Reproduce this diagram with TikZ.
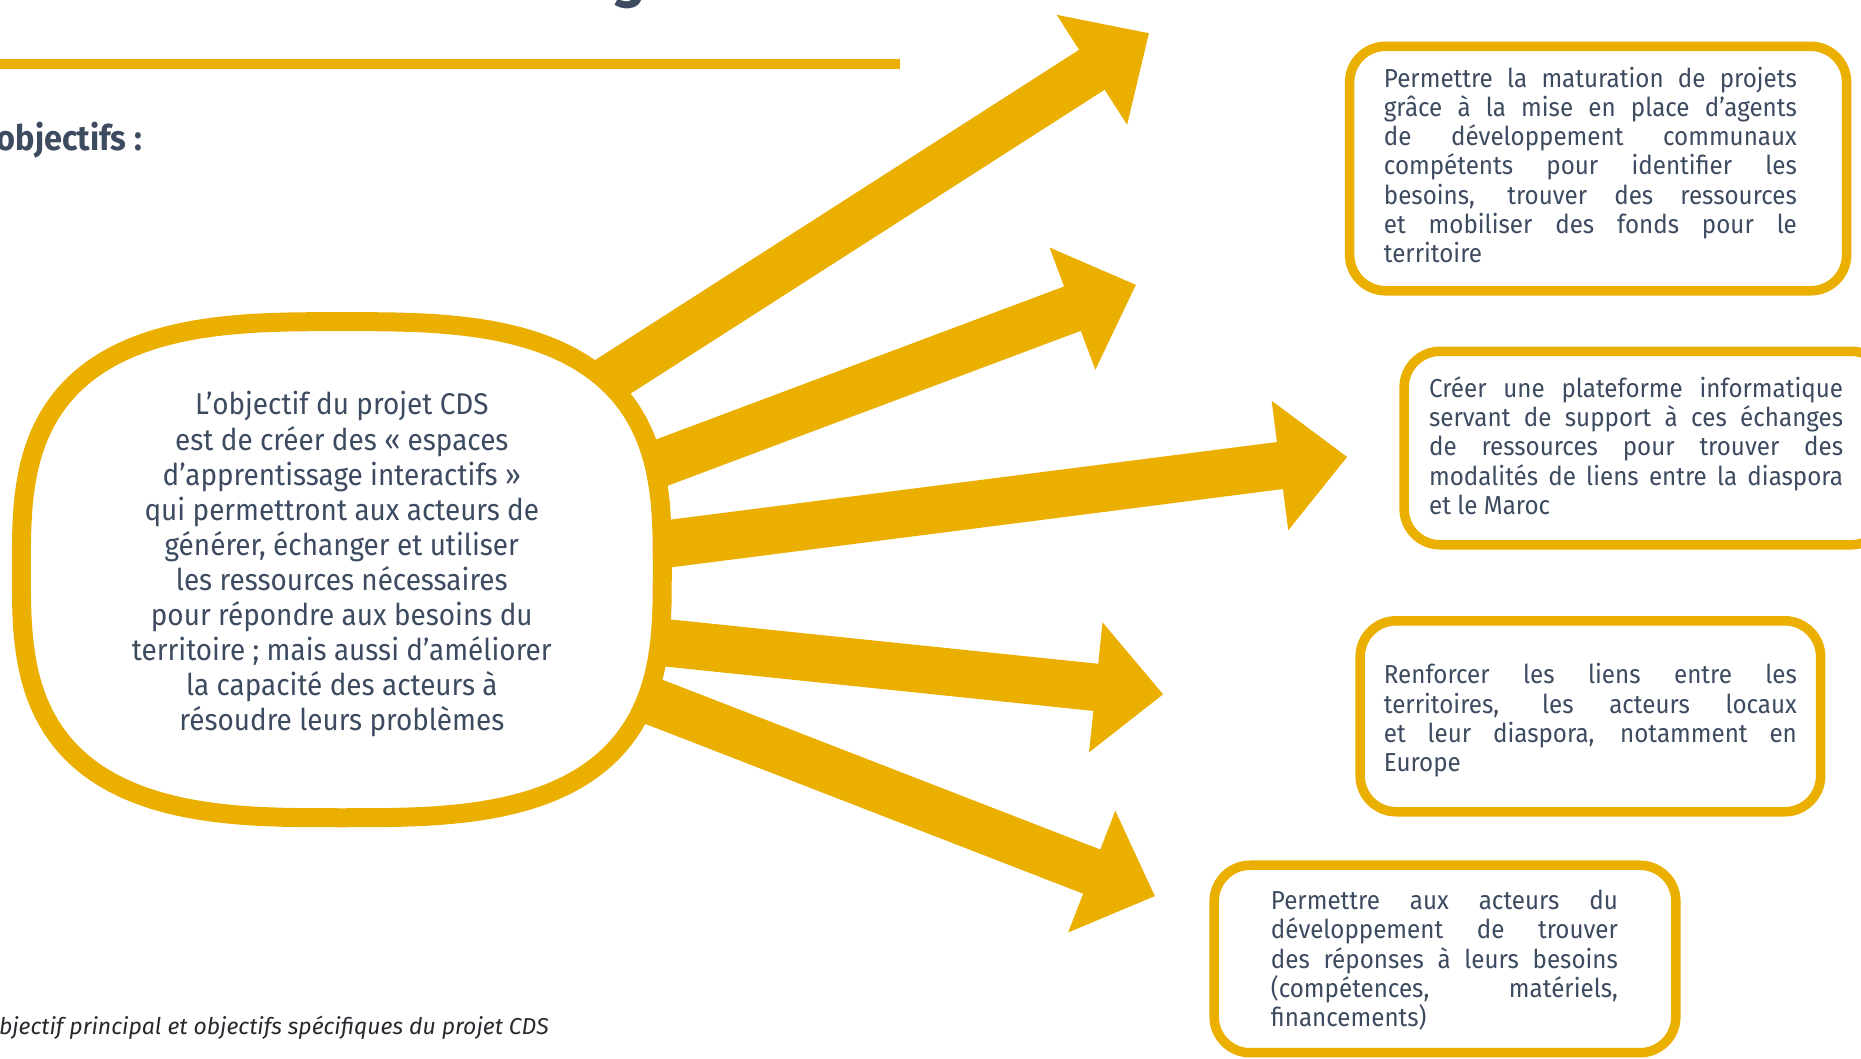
\documentclass[tikz,border=0pt]{standalone}
\usepackage{fontspec}
\setmainfont{Fira Sans}
\newfontfamily\boxfont[FakeStretch=0.93]{Fira Sans}
\usetikzlibrary{calc}
\definecolor{gold}{RGB}{235,175,0}
\definecolor{ink}{RGB}{61,75,96}
\definecolor{capink}{RGB}{40,40,46}
\tikzset{
  goldbox/.style={draw=gold, line width=9.5pt, rounded corners=36pt, fill=white, inner sep=0pt},
  boxtext/.style={text=ink, font=\boxfont\fontsize{26}{29.3}\selectfont, align=left, inner sep=0pt},
  blobtext/.style={text=ink, font=\boxfont\fontsize{30}{35.1}\selectfont, align=center, inner sep=0pt},
  declare function={sp(\t)=sign(\t)*(abs(\t)+0.00001)^(0.667);}
}
\newcommand\jl[2]{\makebox[#1][s]{#2}}
\newcommand\goldarrow[2]{%
  \path ($(#2)!67.7pt!(#1)$) coordinate (#2-b);
  \fill[gold] ($(#1)!23.7pt!90:(#2)$) -- ($(#2-b)!23.7pt!90:(#2)$) -- ($(#2-b)!65.3pt!90:(#2)$)
    -- (#2) -- ($(#2-b)!65.3pt!-90:(#2)$) -- ($(#2-b)!23.7pt!-90:(#2)$) -- ($(#1)!23.7pt!-90:(#2)$) -- cycle;}
\begin{document}
\begin{tikzpicture}[x=1.1869pt, y=-1.1869pt]
\useasboundingbox (0,0) rectangle (1568,892);
\clip (0,0) rectangle (1568,892);
\fill[white] (0,0) rectangle (1568,892);

% title fragment and rule
\node[text=ink, font=\fontsize{60}{60}\selectfont\bfseries\itshape, anchor=base, inner sep=0pt] (ttl) at (532,-4) {g};
\draw[gold, line width=9.5pt] (-5,54) -- (758,54);
\node[text=ink, font=\boxfont\bfseries\fontsize{35}{35}\selectfont, anchor=base west, inner sep=0pt] (obj) at (-3,127) {objectifs :};

% arrows
\coordinate (s1) at (422,378); \coordinate (t1) at (968,28);
\coordinate (s2) at (453,429); \coordinate (t2) at (957,240);
\coordinate (s3) at (463,471); \coordinate (t3) at (1135,385);
\coordinate (s4) at (459,531); \coordinate (t4) at (980,585);
\coordinate (s5) at (447,551); \coordinate (t5) at (973,755);
\goldarrow{s1}{t1}
\goldarrow{s2}{t2}
\goldarrow{s3}{t3}
\goldarrow{s4}{t4}
\goldarrow{s5}{t5}

% central blob
\draw[gold, line width=19pt, fill=white] plot[domain=0:360, samples=241]
  ({288+270*sp(cos(\x))}, {480+209*sp(sin(\x))}) -- cycle;
\node[blobtext] (core) at (288,475.5) {L’objectif du projet CDS\\
est de créer des « espaces\\
d’apprentissage interactifs »\\
qui permettront aux acteurs de\\
générer, échanger et utiliser\\
les ressources nécessaires\\
pour répondre aux besoins du\\
territoire ; mais aussi d’améliorer\\
la capacité des acteurs à\\
résoudre leurs problèmes};

% objective boxes
\node[goldbox, minimum width=497pt, minimum height=244.5pt] (o1) at (1346.5,142) {};
\node[boxtext] (o1t) at (1340,139) {%
\jl{413pt}{Permettre la maturation de projets}\\
\jl{413pt}{grâce à la mise en place d’agents}\\
\jl{413pt}{de développement communaux}\\
\jl{413pt}{compétents pour identifier les}\\
\jl{413pt}{besoins, trouver des ressources}\\
\jl{413pt}{et mobiliser des fonds pour le}\\
territoire};
\node[goldbox, minimum width=483pt, minimum height=193.5pt] (o2) at (1386.5,377.5) {};
\node[boxtext] (o2t) at (1378.5,375.5) {%
\jl{414pt}{Créer une plateforme informatique}\\
\jl{414pt}{servant de support à ces échanges}\\
\jl{414pt}{de ressources pour trouver des}\\
\jl{414pt}{modalités de liens entre la diaspora}\\
et le Maroc};
\node[goldbox, minimum width=460.5pt, minimum height=191pt] (o3) at (1340,603.5) {};
\node[boxtext] (o3t) at (1340,607) {%
\jl{413pt}{Renforcer les liens entre les}\\
\jl{413pt}{territoires, les acteurs locaux}\\
\jl{413pt}{et leur diaspora, notamment en}\\
Europe};
\node[goldbox, minimum width=461.7pt, minimum height=187.5pt] (o4) at (1217.5,808) {};
\node[boxtext] (o4t) at (1217,809) {%
\jl{347pt}{Permettre aux acteurs du}\\
\jl{347pt}{développement de trouver}\\
\jl{347pt}{des réponses à leurs besoins}\\
\jl{347pt}{(compétences, matériels,}\\
financements)};

% caption
\node[text=capink, font=\itshape\fontsize{23}{23}\selectfont, anchor=base west, inner sep=0pt] (cap) at (-1,872) {bjectif principal et objectifs spécifiques du projet CDS};
\end{tikzpicture}
\end{document}
